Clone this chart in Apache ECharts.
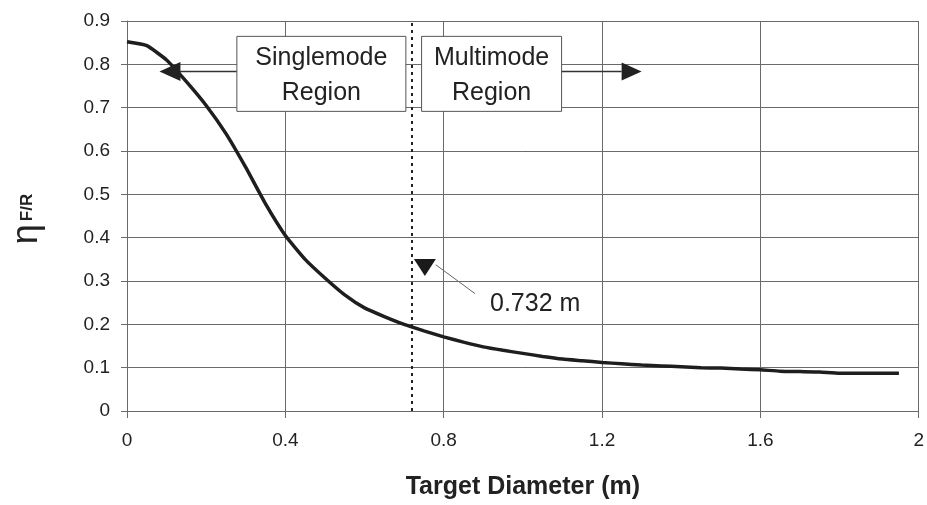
<!DOCTYPE html>
<html>
<head>
<meta charset="UTF-8">
<title>Target Diameter</title>
<script src="https://cdn.jsdelivr.net/npm/echarts@6/dist/echarts.min.js"></script>
<style>
  html, body { margin: 0; padding: 0; background: #fff; }
</style>
</head>
<body>
<div id="main" style="width: 927px;height:505px;"></div>
<script type="text/javascript">
// target diameter (m)
var diameters = [0, 0.05, 0.1, 0.15, 0.2, 0.25, 0.3, 0.35, 0.4, 0.45,
  0.5, 0.55, 0.6, 0.65, 0.7, 0.75, 0.8, 0.85, 0.9, 0.95,
  1.0, 1.05, 1.1, 1.15, 1.2, 1.25, 1.3, 1.35, 1.4, 1.45,
  1.5, 1.55, 1.6, 1.65, 1.7, 1.75, 1.8, 1.85, 1.9, 1.95];
// eta F/R
var etaValues = [0.852, 0.843, 0.810, 0.760, 0.705, 0.640, 0.562, 0.478, 0.405, 0.350,
  0.307, 0.268, 0.238, 0.218, 0.200, 0.185, 0.171, 0.159, 0.148, 0.140,
  0.133, 0.126, 0.120, 0.116, 0.112, 0.109, 0.106, 0.104, 0.102, 0.100,
  0.099, 0.097, 0.095, 0.092, 0.091, 0.090, 0.087, 0.087, 0.087, 0.087];
var xTicks = [0, 0.4, 0.8, 1.2, 1.6, 2];
var yTicks = [0, 0.1, 0.2, 0.3, 0.4, 0.5, 0.6, 0.7, 0.8, 0.9];
var cutoffLine = 0.724;
var cutoffLabel = '0.732 m';
var regionLabels = ['Singlemode\nRegion', 'Multimode\nRegion'];

var FONT = '"Liberation Sans", Arial, sans-serif';
var GRID = '#6a6a6a';

var myChart = echarts.init(document.getElementById('main'));

var option = {
  animation: false,
  backgroundColor: '#fff',
  grid: { left: 127, right: 8, top: 21, bottom: 92 },
  xAxis: {
    type: 'value',
    min: xTicks[0],
    max: xTicks[xTicks.length - 1],
    interval: 0.4,
    name: 'Target Diameter (m)',
    nameLocation: 'middle',
    nameGap: 64,
    nameTextStyle: { fontFamily: FONT, fontSize: 25, fontWeight: 'bold', color: '#222' },
    axisLine: { lineStyle: { color: GRID, width: 1 } },
    axisTick: { show: true, length: 7, lineStyle: { color: GRID } },
    axisLabel: { margin: 20, fontFamily: FONT, fontSize: 19, color: '#222',
      formatter: function (v) { return String(+v.toFixed(1)); } },
    splitLine: { show: true, lineStyle: { color: GRID, width: 1 } }
  },
  yAxis: {
    type: 'value',
    min: yTicks[0],
    max: yTicks[yTicks.length - 1],
    interval: 0.1,
    axisLine: { show: true, lineStyle: { color: GRID, width: 1 } },
    axisTick: { show: true, length: 6, lineStyle: { color: GRID } },
    axisLabel: { margin: 17, fontFamily: FONT, fontSize: 19, color: '#222',
      formatter: function (v) { return String(+v.toFixed(1)); } },
    splitLine: { show: true, lineStyle: { color: GRID, width: 1 } }
  },
  series: [{
    type: 'line',
    data: diameters.map(function (d, i) { return [d, etaValues[i]]; }),
    showSymbol: false,
    smooth: 0.15,
    lineStyle: { color: '#1e1e1e', width: 3.5 },
    markLine: {
      silent: true,
      symbol: 'none',
      label: { show: false },
      lineStyle: { color: '#222', width: 2, type: [3, 4] },
      data: [{ xAxis: cutoffLine }]
    },
    z: 3
  }]
};

myChart.setOption(option);

// annotations, anchored in data space
function px(x, y) { return myChart.convertToPixel({ gridIndex: 0 }, [x, y]); }

var shaftY = 0.7836;
var boxA = px(0.491, 0.778), boxB = px(0.921, 0.778);
var leftTip = px(0.082, shaftY), leftEnd = px(0.278, shaftY);
var rightStart = px(1.098, shaftY), rightTip = px(1.30, shaftY);
var pointerTip = px(0.7525, 0.3116);
var leadA = px(0.78, 0.3375), leadB = px(0.879, 0.271);
var labelPos = px(0.917, 0.2457);

function box(c, w, h, text) {
  return [{
    type: 'rect', z: 10,
    shape: { x: c[0] - w / 2, y: c[1] - h / 2, width: w, height: h },
    style: { fill: '#fff', stroke: '#555', lineWidth: 1 }
  }, {
    type: 'text', z: 11, x: c[0], y: c[1] + 2,
    style: { text: text, align: 'center', verticalAlign: 'middle', fontFamily: FONT,
      fontSize: 25, lineHeight: 35, fill: '#222' }
  }];
}

var graphics = [].concat(
  box(boxA, 169, 75, regionLabels[0]),
  box(boxB, 140, 75, regionLabels[1]),
  [
    { type: 'line', z: 9, shape: { x1: leftTip[0] + 20, y1: leftTip[1], x2: leftEnd[0], y2: leftEnd[1] },
      style: { stroke: '#333', lineWidth: 1.5 } },
    { type: 'polygon', z: 12, shape: { points: [[leftTip[0], leftTip[1]], [leftTip[0] + 21, leftTip[1] - 9.5], [leftTip[0] + 21, leftTip[1] + 9.5]] },
      style: { fill: '#222' } },
    { type: 'line', z: 9, shape: { x1: rightStart[0], y1: rightStart[1], x2: rightTip[0] - 20, y2: rightTip[1] },
      style: { stroke: '#333', lineWidth: 1.5 } },
    { type: 'polygon', z: 12, shape: { points: [[rightTip[0], rightTip[1]], [rightTip[0] - 20, rightTip[1] - 9], [rightTip[0] - 20, rightTip[1] + 9]] },
      style: { fill: '#222' } },
    { type: 'polygon', z: 12, shape: { points: [[pointerTip[0], pointerTip[1]], [pointerTip[0] - 11, pointerTip[1] - 17], [pointerTip[0] + 11, pointerTip[1] - 17]] },
      style: { fill: '#1a1a1a' } },
    { type: 'line', z: 11, shape: { x1: leadA[0], y1: leadA[1], x2: leadB[0], y2: leadB[1] },
      style: { stroke: '#666', lineWidth: 1 } },
    { type: 'text', z: 11, x: labelPos[0], y: labelPos[1],
      style: { text: cutoffLabel, align: 'left', verticalAlign: 'middle', fontFamily: FONT,
        fontSize: 25, fill: '#222' } },
    { type: 'text', z: 11, x: 27, y: 219, rotation: Math.PI / 2,
      style: {
        text: '{e|η}{s|F/R}', align: 'center', verticalAlign: 'middle',
        rich: {
          e: { fontFamily: FONT, fontSize: 36, fill: '#222' },
          s: { fontFamily: FONT, fontSize: 17, fontWeight: 'bold', fill: '#222', padding: [0, 0, 0, 3] }
        }
      } }
  ]
);

myChart.setOption({ graphic: graphics });
</script>
</body>
</html>
